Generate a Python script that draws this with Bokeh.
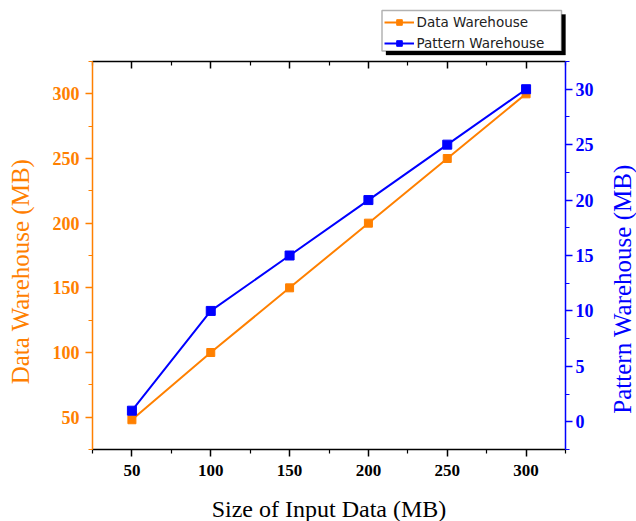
import math
from bokeh.plotting import figure
from bokeh.models import (Range1d, LinearAxis, Legend, LegendItem, FixedTicker,
                          Label, BoxAnnotation)
from bokeh.embed import file_html
from bokeh.resources import INLINE

# ---- data ----
input_size = [50, 100, 150, 200, 250, 300]
data_warehouse = [48, 100, 150, 200, 250, 300]
pattern_warehouse = [1, 10, 15, 20, 25, 30]
x_ticks = [50, 100, 150, 200, 250, 300]
x_minor = [25, 75, 125, 175, 225, 275, 325]
left_ticks = [50, 100, 150, 200, 250, 300]
left_minor = [25, 75, 125, 175, 225, 275, 325]
right_ticks = [0, 5, 10, 15, 20, 25, 30]
right_minor = [-2.5, 2.5, 7.5, 12.5, 17.5, 22.5, 27.5, 32.5]
series_names = ["Data Warehouse", "Pattern Warehouse"]
x_title = "Size of Input Data (MB)"
left_title = "Data Warehouse (MB)"
right_title = "Pattern Warehouse (MB)"

# axis extents
X_LO, X_HI = 25, 325
YL_LO, YL_HI = 25, 325
YR_LO, YR_HI = -2.5, 32.5

ORANGE = "#FF8000"
BLUE = "#0000FF"
SERIF = "Liberation Serif"

# ---- layout in pixels ----
W, H = 636, 521
BOX_L, BOX_R, BOX_T, BOX_B = 92, 565, 61, 449

kx = (BOX_R - BOX_L) / (X_HI - X_LO)
ky = (BOX_B - BOX_T) / (YL_HI - YL_LO)
kr = (BOX_B - BOX_T) / (YR_HI - YR_LO)

def px2x(sx):
    return X_LO + (sx - BOX_L) / kx

def px2y(sy):
    return YL_LO + (BOX_B - sy) / ky

# the frame covers the whole canvas; axes are pinned at the box edges
p = figure(width=W, height=H, output_backend="svg", toolbar_location=None,
           x_range=Range1d(px2x(0), px2x(W)), y_range=Range1d(px2y(H), px2y(0)),
           min_border_left=0, min_border_right=0, min_border_top=0, min_border_bottom=0,
           y_axis_location=None, x_axis_location=None)
p.outline_line_color = None
p.xgrid.visible = False
p.ygrid.visible = False
p.background_fill_color = "white"
p.border_fill_color = "white"
p.extra_y_ranges = {"pw": Range1d(YR_LO - (H - BOX_B) / kr, YR_LO + BOX_B / kr)}

def style(ax, color, tick_fs):
    ax.axis_line_color = color
    ax.axis_line_width = 1.5
    ax.major_tick_line_color = color
    ax.minor_tick_line_color = color
    ax.major_tick_line_width = 1.5
    ax.minor_tick_line_width = 1.2
    ax.major_tick_out = 7
    ax.major_tick_in = 0
    ax.minor_tick_out = 4
    ax.minor_tick_in = 0
    ax.major_label_text_color = color
    ax.major_label_text_font = SERIF
    ax.major_label_text_font_style = "bold"
    ax.major_label_text_font_size = tick_fs

# bottom axis
xb = LinearAxis(fixed_location=YL_LO, bounds=(X_LO, X_HI))
xb.ticker = FixedTicker(ticks=x_ticks, minor_ticks=x_minor)
style(xb, "black", "17px")
xb.major_label_standoff = 8
p.add_layout(xb, "below")

# top axis: mirror line with inward ticks, no labels
xt = LinearAxis(fixed_location=YL_HI, bounds=(X_LO, X_HI))
xt.ticker = FixedTicker(ticks=x_ticks, minor_ticks=x_minor)
style(xt, "black", "1px")
xt.major_tick_out = 0
xt.major_tick_in = 7
xt.minor_tick_out = 0
xt.minor_tick_in = 4
xt.major_label_text_color = None
p.add_layout(xt, "above")

# left axis
yl = LinearAxis(fixed_location=X_LO, bounds=(YL_LO, YL_HI))
yl.ticker = FixedTicker(ticks=left_ticks, minor_ticks=left_minor)
style(yl, ORANGE, "18px")
yl.major_label_standoff = 6
p.add_layout(yl, "left")

# right axis
yr = LinearAxis(y_range_name="pw", fixed_location=X_HI, bounds=(YR_LO, YR_HI))
yr.ticker = FixedTicker(ticks=right_ticks, minor_ticks=right_minor)
style(yr, BLUE, "18px")
yr.major_label_standoff = 3
p.add_layout(yr, "right")

# axis titles
def title(text, sx, sy, color, size, angle=0.0):
    p.add_layout(Label(x=px2x(sx), y=px2y(sy), text=text, angle=angle,
                       text_align="center", text_baseline="alphabetic",
                       text_font=SERIF, text_font_size=size, text_color=color))

title(x_title, (BOX_L + BOX_R) / 2, 508.5, "black", "24px")
title(left_title, 20, 271, ORANGE, "25px", math.pi / 2)
title(right_title, 621.5, 288.5, BLUE, "25px", math.pi / 2)

# series
dl = p.line(input_size, data_warehouse, line_color=ORANGE, line_width=2)
ds = p.scatter(input_size, data_warehouse, marker="square", size=8,
               fill_color=ORANGE, line_color=ORANGE)
pl = p.line(input_size, pattern_warehouse, y_range_name="pw", line_color=BLUE, line_width=2)
ps = p.scatter(input_size, pattern_warehouse, y_range_name="pw", marker="square", size=9,
               fill_color=BLUE, line_color=BLUE)

# legend frame with drop shadow
LG_L, LG_R, LG_T, LG_B, SH = 381.5, 561, 10, 50.5, 4
p.add_layout(BoxAnnotation(left=px2x(LG_L + SH), right=px2x(LG_R + SH),
                           top=px2y(LG_T + SH), bottom=px2y(LG_B + SH),
                           fill_color="black", fill_alpha=1.0, line_color="black"))
p.add_layout(BoxAnnotation(left=px2x(LG_L), right=px2x(LG_R),
                           top=px2y(LG_T), bottom=px2y(LG_B),
                           fill_color="white", fill_alpha=1.0,
                           line_color="black", line_width=1.5))

legend = Legend(items=[LegendItem(label=series_names[0], renderers=[dl, ds]),
                       LegendItem(label=series_names[1], renderers=[pl, ps])],
                location=(LG_L + 2, H - 51), margin=0, padding=4, spacing=5,
                glyph_width=30, glyph_height=14, label_height=14, label_standoff=3,
                label_text_font="DejaVu Sans", label_text_font_size="13.5px",
                label_text_color="#222222",
                border_line_color=None, background_fill_alpha=0.0)
p.add_layout(legend, "center")

open("out.html", "w").write(file_html(p, INLINE))
